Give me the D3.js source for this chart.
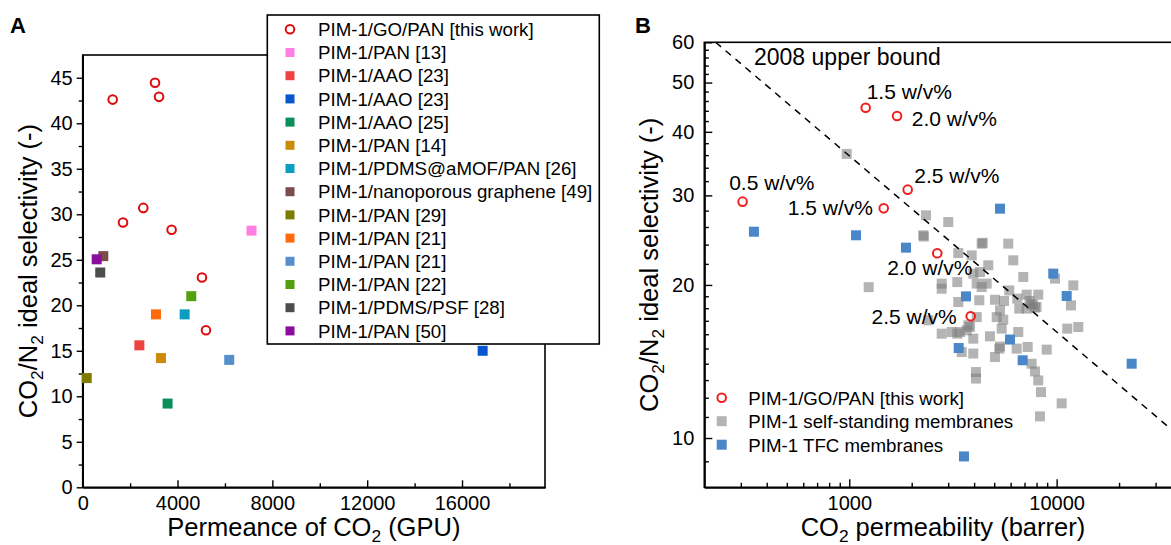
<!DOCTYPE html>
<html><head><meta charset="utf-8">
<script src="https://cdn.jsdelivr.net/npm/d3@7"></script>
<style>
body{margin:0;background:#fff;overflow:hidden;}
svg{display:block;font-family:"Liberation Sans",Arial,Helvetica,sans-serif;}
</style></head><body>
<svg id="c" width="1171" height="545"></svg>
<script>
// ---------------- DATA : panel A ----------------
const aXTicks = [0, 4000, 8000, 12000, 16000];
const aXMinor = [2000, 6000, 10000, 14000, 18000];
const aYTicks = [0, 5, 10, 15, 20, 25, 30, 35, 40, 45];
const aYMinor = [2.5, 7.5, 12.5, 17.5, 22.5, 27.5, 32.5, 37.5, 42.5];

const thisWorkLabel = "PIM-1/GO/PAN [this work]";
const thisWorkPermeance = [1265, 3050, 3220, 1700, 2555, 3750, 5030, 5200];
const thisWorkSelectivity = [42.6, 44.45, 42.9, 29.1, 30.7, 28.3, 23.05, 17.25];

const refLabels = ["PIM-1/PAN [13]", "PIM-1/AAO [23]", "PIM-1/AAO [23]", "PIM-1/AAO [25]",
  "PIM-1/PAN [14]", "PIM-1/PDMS@aMOF/PAN [26]", "PIM-1/nanoporous graphene [49]",
  "PIM-1/PAN [29]", "PIM-1/PAN [21]", "PIM-1/PAN [21]", "PIM-1/PAN [22]",
  "PIM-1/PDMS/PSF [28]", "PIM-1/PAN [50]"];
const refPermeance = [7120, 2390, 16870, 3580, 3300, 4300, 870, 170, 3090, 6180, 4580, 740, 590];
const refSelectivity = [28.2, 15.6, 15.0, 9.2, 14.2, 19.0, 25.4, 12.0, 19.0, 14.0, 21.0, 23.6, 25.05];
const refColors = ["#ff7fe3", "#ee4242", "#0656cf", "#0a8f5c", "#cc8a0a", "#0a9fbf", "#7a4c4c",
  "#7f7a00", "#ff6a0a", "#5590cc", "#52a00c", "#4d4d4d", "#8c0c9e"];

// ---------------- DATA : panel B ----------------
const bXTicks = [1000, 10000];
const bXMinor = [300, 400, 500, 600, 700, 800, 900, 2000, 3000, 4000, 5000, 6000, 7000, 8000, 9000, 20000, 30000];
const bYTicks = [10, 20, 30, 40, 50, 60];
const bYMinor = [9, 11, 12, 13, 14, 15, 16, 17, 18, 19, 22, 24, 26, 28, 32, 34, 36, 38, 42, 44, 46, 48, 52, 54, 56, 58];

const gopanPermeability = [306, 1200, 1466, 1700, 1913, 2657, 3851];
const gopanSelectivity = [29.16, 44.6, 28.29, 42.97, 30.79, 23.08, 17.35];
const gopanLabels = ["0.5 w/v%", "1.5 w/v%", "1.5 w/v%", "2.0 w/v%", "2.5 w/v%", "2.0 w/v%", "2.5 w/v%"];

const tfcPermeability = [347, 1078, 1877, 3370, 3574, 3654, 5332, 5956, 6858, 9632, 11180, 23000];
const tfcSelectivity = [25.45, 25.04, 23.68, 15.03, 9.2, 18.99, 28.25, 15.62, 14.22, 21.05, 19.02, 14.0];

const selfPermeability = [972, 1241, 2345, 3002, 2275, 2290, 3356, 3894, 4351, 4400, 5846, 4680, 6180,
  3963, 4270, 6905, 4598, 4116, 3319, 2791, 2791, 4351, 5911, 12030, 9817, 3356, 4237, 5042, 5573,
  6461, 7170, 8154, 6606, 7170, 7861, 7519, 11725, 5332, 5529, 5139, 4116, 2405, 3749, 3683, 3419,
  3118, 2791, 3963, 4770, 5433, 6532, 11250, 12716, 8953, 7251, 6418, 5290, 5042, 3963, 3485, 7578,
  7861, 8154, 8404, 8310, 10574, 4083, 4083, 7400, 7700, 8000, 5332, 3319, 3820];
const selfSelectivity = [36.2, 19.8, 27.41, 26.59, 25.04, 24.9, 23.1, 22.86, 24.11, 24.2, 24.11, 21.86, 22.36,
  21.05, 21.2, 20.73, 20.12, 20.12, 20.26, 20.12, 19.66, 19.81, 19.51, 19.96, 20.58, 18.51, 18.66, 18.7, 18.6,
  18.8, 19.14, 19.14, 17.97, 17.97, 18.05, 18.32, 18.23, 17.83, 17.09, 17.29, 17.29, 17.04, 16.66, 16.28, 16.16,
  16.16, 16.04, 15.68, 15.85, 16.41, 16.16, 16.41, 16.53, 14.92, 15.1, 14.99, 14.99, 14.43, 14.66, 14.76, 14.0,
  13.52, 12.98, 12.31, 11.03, 11.7, 13.48, 13.09, 18.6, 18.3, 18.1, 15.13, 16.04, 16.53];

const upperBoundPermeability = [227, 40000];
const upperBoundSelectivity = [60, 10.0];

const bLegendLabels = ["PIM-1/GO/PAN [this work]", "PIM-1 self-standing membranes", "PIM-1 TFC membranes"];

// ---------------- DRAWING ----------------
const svg = d3.select("#c");
const FONT_TICK = 20, FONT_TITLE = 25.5, FONT_LEG = 18.7;

function richText(g, parts, size) {
  const sub = size * 0.68, shift = size * 0.24;
  let prevSub = false;
  parts.forEach(p => {
    const isSub = p[1];
    const t = g.append("tspan").text(p[0]).attr("font-size", isSub ? sub : size);
    if (isSub && !prevSub) t.attr("dy", shift);
    if (!isSub && prevSub) t.attr("dy", -shift);
    prevSub = isSub;
  });
}
function styleAxis(g) {
  g.selectAll("path.domain").attr("stroke", "#000").attr("stroke-width", 1.6);
  g.selectAll(".tick line").attr("stroke", "#000").attr("stroke-width", 1.4);
  g.selectAll(".tick text").attr("font-size", FONT_TICK).attr("fill", "#000")
    .attr("font-family", "Liberation Sans, Arial, sans-serif");
}

// ===== Panel A =====
const A = {l: 82.7, r: 545, t: 55, b: 487.3};
const xA = d3.scaleLinear().domain([0, 19500]).range([A.l, A.r]);
const yA = d3.scaleLinear().domain([0, 47.5]).range([A.b, A.t]);

svg.append("rect").attr("x", A.l).attr("y", A.t).attr("width", A.r - A.l).attr("height", A.b - A.t)
  .attr("fill", "none").attr("stroke", "#000").attr("stroke-width", 1.6);

let g = svg.append("g").attr("transform", `translate(0,${A.b})`)
  .call(d3.axisBottom(xA).tickValues(aXTicks).tickSize(-7).tickSizeOuter(0).tickPadding(9).tickFormat(d3.format("d")));
styleAxis(g);
g = svg.append("g").attr("transform", `translate(0,${A.b})`)
  .call(d3.axisBottom(xA).tickValues(aXMinor).tickSize(-4).tickSizeOuter(0).tickFormat(""));
styleAxis(g);
g = svg.append("g").attr("transform", `translate(${A.l},0)`)
  .call(d3.axisLeft(yA).tickValues(aYTicks).tickSize(6).tickSizeOuter(0).tickPadding(4));
styleAxis(g);
g = svg.append("g").attr("transform", `translate(${A.l},0)`)
  .call(d3.axisLeft(yA).tickValues(aYMinor).tickSize(4).tickSizeOuter(0).tickFormat(""));
styleAxis(g);

const SQ = 10;
svg.append("g").selectAll("rect").data(refPermeance.map((p, i) => ({p, s: refSelectivity[i], c: refColors[i]})))
  .join("rect")
  .attr("x", d => xA(d.p) - SQ / 2).attr("y", d => yA(d.s) - SQ / 2)
  .attr("width", SQ).attr("height", SQ).attr("fill", d => d.c);
svg.append("g").selectAll("circle").data(thisWorkPermeance.map((p, i) => ({p, s: thisWorkSelectivity[i]})))
  .join("circle")
  .attr("cx", d => xA(d.p)).attr("cy", d => yA(d.s)).attr("r", 4.3)
  .attr("fill", "none").attr("stroke", "#e00a0a").attr("stroke-width", 2);

// legend A (auto-sized to its longest entry, like the original)
const legA = {x: 267.3, y: 15, h: 344 - 15, y0: 29.3, dy: 23.2, mx: 290, tx: 318};
const legBox = svg.append("rect").attr("x", legA.x).attr("y", legA.y).attr("height", legA.h)
  .attr("fill", "#fff").attr("stroke", "#000").attr("stroke-width", 1.6);
const legItemsA = [{label: thisWorkLabel, circle: true}].concat(refLabels.map((l, i) => ({label: l, color: refColors[i]})));
let maxRight = 0;
legItemsA.forEach((d, i) => {
  const cy = legA.y0 + i * legA.dy;
  if (d.circle) {
    svg.append("circle").attr("cx", legA.mx).attr("cy", cy).attr("r", 4.3)
      .attr("fill", "none").attr("stroke", "#e00a0a").attr("stroke-width", 2);
  } else {
    svg.append("rect").attr("x", legA.mx - 4.5).attr("y", cy - 4.5).attr("width", 9).attr("height", 9).attr("fill", d.color);
  }
  const tx = svg.append("text").attr("x", legA.tx).attr("y", cy + 6.7).attr("font-size", FONT_LEG).text(d.label);
  maxRight = Math.max(maxRight, legA.tx + tx.node().getComputedTextLength());
});
legBox.attr("width", maxRight + 7 - legA.x);

let t = svg.append("text").attr("x", (A.l + A.r) / 2).attr("y", 536).attr("text-anchor", "middle");
richText(t, [["Permeance of CO", false], ["2", true], [" (GPU)", false]], FONT_TITLE);
t = svg.append("text").attr("transform", `translate(37,${(A.t + A.b) / 2}) rotate(-90)`).attr("text-anchor", "middle");
richText(t, [["CO", false], ["2", true], ["/N", false], ["2", true], [" ideal selectivity (-)", false]], FONT_TITLE);
svg.append("text").attr("x", 10).attr("y", 33).attr("font-size", 22).attr("font-weight", "bold").text("A");

// ===== Panel B =====
const B = {l: 704.3, r: 1181.5, t: 42.3, b: 487.3};
const xB = d3.scaleLog().domain([200, 40000]).range([B.l, B.r]);
const yB = d3.scaleLog().domain([8, 60]).range([B.b, B.t]);

svg.append("rect").attr("x", B.l).attr("y", B.t).attr("width", B.r - B.l).attr("height", B.b - B.t)
  .attr("fill", "none").attr("stroke", "#000").attr("stroke-width", 1.6);

g = svg.append("g").attr("transform", `translate(0,${B.b})`)
  .call(d3.axisBottom(xB).tickValues(bXTicks).tickSize(-8).tickSizeOuter(0).tickPadding(9).tickFormat(d3.format("d")));
styleAxis(g);
g = svg.append("g").attr("transform", `translate(0,${B.b})`)
  .call(d3.axisBottom(xB).tickValues(bXMinor).tickSize(-4.5).tickSizeOuter(0).tickFormat(""));
styleAxis(g);
g = svg.append("g").attr("transform", `translate(${B.l},0)`)
  .call(d3.axisLeft(yB).tickValues(bYTicks).tickSize(-8).tickSizeOuter(0).tickPadding(10).tickFormat(d3.format("d")));
styleAxis(g);
g = svg.append("g").attr("transform", `translate(${B.l},0)`)
  .call(d3.axisLeft(yB).tickValues(bYMinor).tickSize(-4.5).tickSizeOuter(0).tickFormat(""));
styleAxis(g);

svg.append("g").selectAll("rect").data(selfPermeability.map((p, i) => ({p, s: selfSelectivity[i]})))
  .join("rect")
  .attr("x", d => xB(d.p) - SQ / 2).attr("y", d => yB(d.s) - SQ / 2)
  .attr("width", SQ).attr("height", SQ).attr("fill", "#7d7d7d").attr("fill-opacity", 0.58);

const ub = upperBoundPermeability.map((p, i) => [p, upperBoundSelectivity[i]]);
svg.append("path").attr("d", d3.line().x(d => xB(d[0])).y(d => yB(d[1]))(ub))
  .attr("fill", "none").attr("stroke", "#000").attr("stroke-width", 1.5).attr("stroke-dasharray", "7,6");
svg.append("text").attr("x", 754).attr("y", 65).attr("font-size", 23).text("2008 upper bound");

svg.append("g").selectAll("rect").data(tfcPermeability.map((p, i) => ({p, s: tfcSelectivity[i]})))
  .join("rect")
  .attr("x", d => xB(d.p) - SQ / 2).attr("y", d => yB(d.s) - SQ / 2)
  .attr("width", SQ).attr("height", SQ).attr("fill", "#4a87c9");

const labelOffsets = [[-13.4, -12, "start"], [1, -8.7, "start"], [-10.7, 7, "end"], [14.7, 10.3, "start"],
  [6.6, -6.6, "start"], [-50, 22, "start"], [-14, 7.3, "end"]];
gopanPermeability.forEach((p, i) => {
  const cx = xB(p), cy = yB(gopanSelectivity[i]);
  svg.append("circle").attr("cx", cx).attr("cy", cy).attr("r", 4.3)
    .attr("fill", "none").attr("stroke", "#f01e1e").attr("stroke-width", 2);
  const o = labelOffsets[i];
  svg.append("text").attr("x", cx + o[0]).attr("y", cy + o[1]).attr("text-anchor", o[2])
    .attr("font-size", 21).text(gopanLabels[i]);
});

const legB = {mx: 721.7, y0: 397.7, dy: 23.5, tx: 748.3};
bLegendLabels.forEach((l, i) => {
  const cy = legB.y0 + i * legB.dy;
  if (i === 0) {
    svg.append("circle").attr("cx", legB.mx).attr("cy", cy).attr("r", 4.3)
      .attr("fill", "none").attr("stroke", "#f01e1e").attr("stroke-width", 2);
  } else {
    svg.append("rect").attr("x", legB.mx - 5).attr("y", cy - 5).attr("width", 10).attr("height", 10)
      .attr("fill", i === 1 ? "#b4b4b4" : "#4a87c9");
  }
  svg.append("text").attr("x", legB.tx).attr("y", cy + 6.8).attr("font-size", FONT_LEG).text(l);
});

t = svg.append("text").attr("x", (B.l + B.r) / 2).attr("y", 536).attr("text-anchor", "middle");
richText(t, [["CO", false], ["2", true], [" permeability (barrer)", false]], FONT_TITLE);
t = svg.append("text").attr("transform", `translate(658,${(B.t + B.b) / 2}) rotate(-90)`).attr("text-anchor", "middle");
richText(t, [["CO", false], ["2", true], ["/N", false], ["2", true], [" ideal selectivity (-)", false]], FONT_TITLE);
svg.append("text").attr("x", 635).attr("y", 33).attr("font-size", 22).attr("font-weight", "bold").text("B");
</script>
</body></html>
